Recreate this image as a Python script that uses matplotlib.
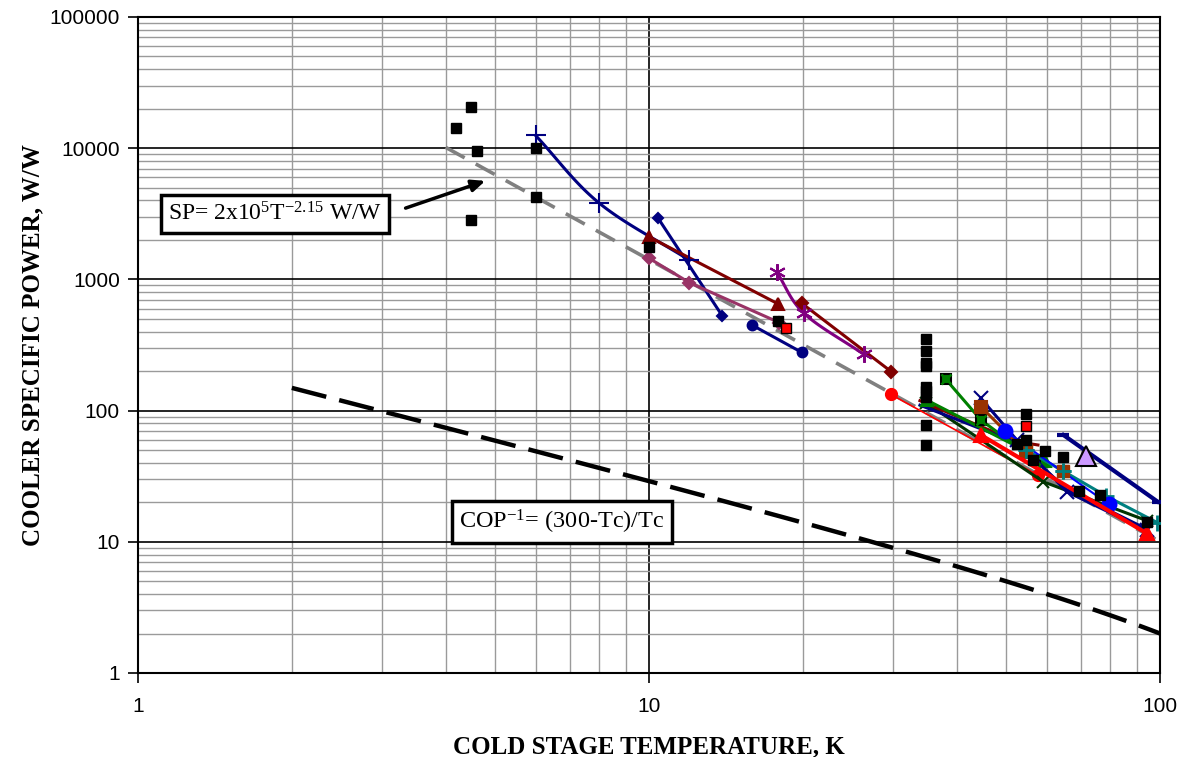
import numpy as np
import matplotlib
matplotlib.use("Agg")
import matplotlib.pyplot as plt
from matplotlib.ticker import LogLocator, NullFormatter, FixedLocator, FixedFormatter

plt.rcParams["mathtext.fontset"] = "custom"
plt.rcParams["mathtext.rm"] = "Liberation Serif"
plt.rcParams["mathtext.it"] = "Liberation Serif:italic"
plt.rcParams["mathtext.bf"] = "Liberation Serif:bold"

# ---------------- data ----------------
# scattered black squares (individual coolers)
sq_T = [4.2, 4.48, 4.6, 4.48, 6.0, 6.0, 10.0, 17.9,
        34.8, 34.8, 34.8, 34.8, 34.8, 34.8, 34.8, 34.8, 34.8,
        54.6, 54.6, 52.4, 56.4, 59.6, 64.5, 69.4, 76.3, 94.2]
sq_P = [14300, 20700, 9500, 2840, 10000, 4250, 1770, 484,
        350, 287, 232, 220, 152, 140, 127, 77, 55,
        95, 60, 56, 42, 49, 44.6, 24.5, 22.9, 14.1]

red_sq_T = [18.5, 54.6]
red_sq_P = [428, 76]

tri_T = [71.5]
tri_P = [45]

# series lines
navy_plus_T = [6.0, 8.0, 12.0]
navy_plus_P = [12500, 3800, 1400]

navy_dia_T = [10.4, 13.9]
navy_dia_P = [2960, 530]

dred_tri_T = [10.0, 17.9]
dred_tri_P = [2110, 650]

pink_dia_T = [10.0, 12.0, 18.0]
pink_dia_P = [1450, 944, 468]

navy_circ_T = [15.9, 19.9]
navy_circ_P = [449, 278]

purple_ast_T = [17.8, 20.1, 26.3]
purple_ast_P = [1130, 552, 269]

dred_dia_T = [19.9, 29.8]
dred_dia_P = [658, 198]

red_circ_T = [29.7, 57.6]
red_circ_P = [133, 32.3]

green_sqx_T = [38.1, 44.6, 56.9]
green_sqx_P = [173, 85, 42]

green_tri_T = [35.0, 59.6]
green_tri_P = [120, 41.3]

navy_x_T = [44.6, 52.4, 65.7, 94.2]
navy_x_P = [124, 60, 24.1, 12.2]

brown_sq_T = [44.6, 54.7]
brown_sq_P = [107, 48.6]

teal_plus_T = [54.7, 64.5, 78.5, 98.8]
teal_plus_P = [50, 34.8, 22.3, 14.0]

blue_circ_T = [49.7, 79.3]
blue_circ_P = [70, 19.4]

red_tri_T = [44.6, 94.2]
red_tri_P = [65.2, 11.6]

dgreen_T = [34.9, 59.1, 94.2]
dgreen_P = [114, 28.7, 14.5]

dred_T = [33.9, 52.4, 57.7]
dred_P = [119, 58, 54.7]

navy2_T = [33.9, 52.4, 65.7, 94.2]
navy2_P = [110, 57, 25, 12.5]

navy_top_T = [64.7, 99.0]
navy_top_P = [65.2, 20.2]

# fit and Carnot lines
fit_T = [4.0, 100.0]
fit_coef = 2e5
fit_exp = -2.15
cop_T = [2.0, 100.0]
cop_Th = 300.0

# ---------------- helpers ----------------
def smooth(T, P, n=30):
    x = np.log10(T); y = np.log10(P)
    if len(x) < 3:
        return T, P
    px = np.concatenate([[2*x[0]-x[1]], x, [2*x[-1]-x[-2]]])
    py = np.concatenate([[2*y[0]-y[1]], y, [2*y[-1]-y[-2]]])
    xs, ys = [], []
    for i in range(1, len(px)-2):
        t = np.linspace(0, 1, n)
        for arr, out in ((px, xs), (py, ys)):
            p0, p1, p2, p3 = arr[i-1], arr[i], arr[i+1], arr[i+2]
            out.extend(0.5*((2*p1) + (-p0+p2)*t + (2*p0-5*p1+4*p2-p3)*t**2 + (-p0+3*p1-3*p2+p3)*t**3))
    return 10**np.array(xs), 10**np.array(ys)

# ---------------- figure ----------------
fig = plt.figure(figsize=(11.83, 7.57), dpi=100)
ax = fig.add_axes([138/1183, 1-673/757, (1160-138)/1183, (673-17)/757])
ax.set_xscale("log"); ax.set_yscale("log")
ax.set_xlim(1, 100); ax.set_ylim(1, 100000)

ax.xaxis.set_minor_locator(LogLocator(base=10, subs=np.arange(2, 10), numticks=20))
ax.yaxis.set_minor_locator(LogLocator(base=10, subs=np.arange(2, 10), numticks=20))
ax.xaxis.set_minor_formatter(NullFormatter()); ax.yaxis.set_minor_formatter(NullFormatter())
ax.xaxis.set_major_locator(FixedLocator([1, 10, 100]))
ax.xaxis.set_major_formatter(FixedFormatter(["1", "10", "100"]))
yt = [1, 10, 100, 1000, 10000, 100000]
ax.yaxis.set_major_locator(FixedLocator(yt))
ax.yaxis.set_major_formatter(FixedFormatter([str(v) for v in yt]))

ax.grid(which="minor", color="#9a9a9a", lw=1.0, zorder=0)
ax.grid(which="major", color="black", lw=1.2, zorder=0.5)
ax.set_axisbelow(True)
ax.tick_params(which="minor", length=0)
ax.tick_params(which="major", direction="out", length=7, width=1.2, labelsize=15)
for lab in ax.get_xticklabels() + ax.get_yticklabels():
    lab.set_family(["Liberation Sans", "DejaVu Sans"])
ax.tick_params(axis="x", pad=10)
ax.tick_params(axis="y", pad=6)
for s in ax.spines.values():
    s.set_linewidth(1.5)

# fit line
ft = np.array(fit_T)
ax.plot(ft, fit_coef*ft**fit_exp, color="#808080", lw=2.6, dashes=(6, 3.5), zorder=3)
# Carnot
ct = np.geomspace(cop_T[0], cop_T[1], 100)
ax.plot(ct, (cop_Th-ct)/ct, color="black", lw=3.2, dashes=(8, 3), zorder=3)

lw = 2.2
def series(T, P, color, marker, ms=7, mfc=None, mec=None, smoothit=False, lwd=lw, mew=1.5):
    if smoothit:
        sx, sy = smooth(T, P)
        ax.plot(sx, sy, color=color, lw=lwd, zorder=4)
        ax.plot(T, P, ls="none", marker=marker, ms=ms, color=color,
                mfc=mfc or color, mec=mec or color, mew=mew, zorder=5)
    else:
        ax.plot(T, P, color=color, lw=lwd, marker=marker, ms=ms,
                mfc=mfc or color, mec=mec or color, mew=mew, zorder=4)

series(navy_plus_T, navy_plus_P, "#000080", "+", ms=14, smoothit=True)
series(navy_dia_T, navy_dia_P, "#000080", "D", ms=5)
series(dred_tri_T, dred_tri_P, "#800000", "^", ms=8)
series(pink_dia_T, pink_dia_P, "#993366", "D", ms=6)
series(navy_circ_T, navy_circ_P, "#000080", "o", ms=7)
series(purple_ast_T, purple_ast_P, "#800080", (6, 2, 0), ms=12, smoothit=True)
series(dred_dia_T, dred_dia_P, "#800000", "D", ms=6)
series(red_circ_T, red_circ_P, "#FF0000", "o", ms=8, lwd=1.2)
series(dgreen_T, dgreen_P, "#003300", "x", ms=9)
series(dred_T, dred_P, "#800000", None)
series(navy2_T, navy2_P, "#000080", None)
series(green_tri_T, green_tri_P, "#008000", "^", ms=9)
series(green_sqx_T, green_sqx_P, "#008000", "s", ms=7, mfc="#008000", mec="black")
ax.plot(green_sqx_T, green_sqx_P, ls="none", marker="x", ms=7, color="#008000", mew=1.8, zorder=6)
series(navy_x_T, navy_x_P, "#000080", "x", ms=10)
series(brown_sq_T, brown_sq_P, "#993300", "s", ms=8)
series(teal_plus_T, teal_plus_P, "#008080", "+", ms=12, mew=2)
ax.plot(teal_plus_T[:2], teal_plus_P[:2], ls="none", marker="s", ms=8, color="#993300", zorder=5)
ax.plot(teal_plus_T[:2], teal_plus_P[:2], ls="none", marker="+", ms=11, color="#008080", mew=2, zorder=6)
series(blue_circ_T, blue_circ_P, "#0000FF", "o", ms=10, lwd=1.5)
series(red_tri_T, red_tri_P, "#FF0000", "^", ms=10, lwd=3)
series(navy_top_T, navy_top_P, "#000080", "_", ms=8, lwd=3, mew=3)

ax.plot(sq_T, sq_P, ls="none", marker="s", ms=7, color="black", zorder=7)
ax.plot(red_sq_T, red_sq_P, ls="none", marker="s", ms=7, mfc="#FF0000", mec="black", zorder=7)
ax.plot(tri_T, tri_P, ls="none", marker="^", ms=14, mfc="#CC99FF", mec="black", mew=1.5, zorder=7)

# annotations
serif = ["Liberation Serif", "DejaVu Serif"]
box = dict(boxstyle="square,pad=0.3", fc="white", ec="black", lw=2.5)
ax.text(275, 757-214, r"SP= 2x10$^{\mathrm{5}}$T$^{\mathrm{-2.15}}$ W/W", transform=None, fontsize=17,
        family=serif, ha="center", va="center", bbox=box, zorder=10)
ax.text(562, 757-522, r"COP$^{\mathrm{-1}}$= (300-Tc)/Tc", transform=None, fontsize=17.5,
        family=serif, ha="center", va="center", bbox=box, zorder=10)
ax.annotate("", xy=(4.84, 5725), xytext=(3.30, 3440),
            arrowprops=dict(arrowstyle="-|>,head_length=0.8,head_width=0.35", color="black", lw=2.5),
            zorder=10)

ax.set_xlabel("COLD STAGE TEMPERATURE, K", fontsize=18, fontweight="bold", family=serif, labelpad=14)
ax.set_ylabel("COOLER SPECIFIC POWER, W/W", fontsize=18, fontweight="bold", family=serif, labelpad=4)

fig.savefig("out.png", dpi=100)
